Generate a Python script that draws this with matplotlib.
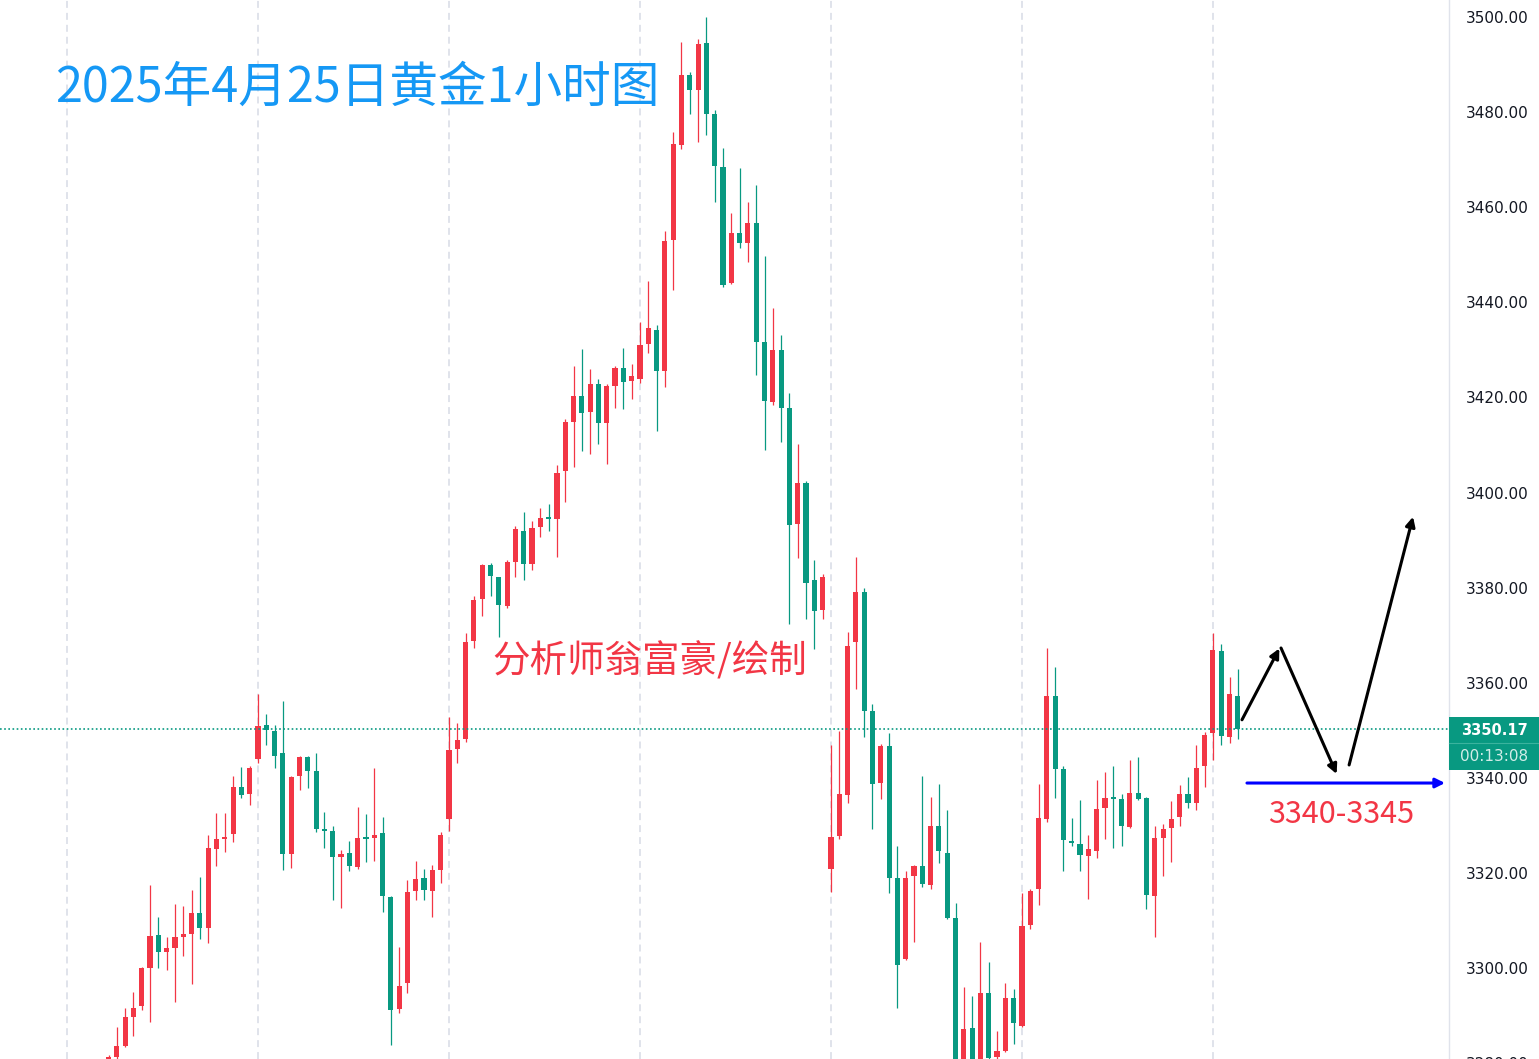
import numpy as np
import matplotlib
matplotlib.use('Agg')
import matplotlib.pyplot as plt
import matplotlib.transforms as mtransforms
from matplotlib.patches import Rectangle

plt.rcParams['font.family'] = ['Noto Sans CJK SC', 'DejaVu Sans']
plt.rcParams['lines.scale_dashes'] = False

# 1h gold candles (open / high / low / close)
opens = [3280.9, 3281.2, 3283.6, 3289.6, 3292.0, 3299.9, 3306.9, 3303.4, 3304.1, 3306.6,
         3307.2, 3311.5, 3308.4, 3325.1, 3327.2, 3328.1, 3338.1, 3336.5, 3344.0, 3351.0,
         3349.9, 3345.2, 3323.9, 3340.4, 3344.4, 3341.4, 3329.2, 3328.8, 3323.3, 3324.1,
         3321.3, 3327.5, 3327.3, 3328.3, 3314.9, 3291.3, 3296.8, 3316.1, 3318.9, 3316.2,
         3320.6, 3331.4, 3346.1, 3348.1, 3368.8, 3377.5, 3384.8, 3382.2, 3376.2, 3385.4,
         3392.0, 3385.0, 3392.8, 3394.8, 3394.5, 3404.5, 3414.9, 3420.3, 3417.0, 3422.8,
         3414.6, 3422.5, 3426.2, 3423.4, 3423.8, 3431.2, 3434.2, 3425.6, 3453.2, 3473.1,
         3487.8, 3484.6, 3494.5, 3479.7, 3468.5, 3444.1, 3454.5, 3452.5, 3456.7, 3431.6,
         3419.0, 3430.0, 3417.7, 3393.4, 3402.0, 3381.5, 3375.2, 3320.8, 3327.8, 3336.4,
         3368.6, 3379.0, 3354.1, 3339.0, 3346.6, 3318.9, 3301.8, 3319.4, 3321.5, 3317.5,
         3329.9, 3324.1, 3310.6, 3277.0, 3287.3, 3276.0, 3294.8, 3281.2, 3282.6, 3293.6,
         3287.8, 3309.0, 3316.6, 3331.3, 3357.1, 3341.9, 3326.7, 3326.0, 3323.6, 3324.6,
         3333.6, 3335.9, 3335.5, 3329.7, 3336.8, 3335.7, 3315.2, 3327.4, 3329.4, 3331.7,
         3336.6, 3334.8, 3342.5, 3349.5, 3366.7, 3348.6, 3357.3]
highs = [3281.6, 3287.5, 3291.5, 3294.9, 3300.3, 3317.5, 3310.7, 3306.6, 3313.5, 3313.0,
         3316.3, 3319.2, 3327.9, 3332.7, 3332.5, 3340.4, 3342.2, 3342.5, 3357.6, 3353.4,
         3351.0, 3356.1, 3340.4, 3344.6, 3344.6, 3345.3, 3332.9, 3329.9, 3324.8, 3326.7,
         3333.8, 3332.3, 3342.1, 3331.8, 3315.2, 3304.5, 3318.5, 3322.4, 3320.8, 3321.6,
         3328.6, 3352.8, 3351.6, 3370.5, 3378.2, 3384.9, 3385.1, 3382.3, 3385.8, 3393.0,
         3395.9, 3394.0, 3396.8, 3397.6, 3405.7, 3415.5, 3426.7, 3430.1, 3426.0, 3423.8,
         3422.8, 3426.6, 3430.3, 3427.1, 3435.9, 3444.4, 3435.2, 3455.0, 3475.9, 3494.7,
         3488.4, 3495.4, 3499.9, 3480.4, 3472.5, 3458.7, 3468.2, 3461.2, 3464.7, 3449.7,
         3438.8, 3433.1, 3420.9, 3410.3, 3402.4, 3385.9, 3382.8, 3346.8, 3349.8, 3370.7,
         3386.5, 3379.9, 3355.5, 3347.1, 3349.4, 3325.7, 3320.3, 3321.6, 3340.4, 3336.0,
         3338.8, 3333.2, 3313.6, 3296.1, 3294.1, 3305.5, 3301.2, 3286.8, 3296.9, 3295.5,
         3315.8, 3316.6, 3338.8, 3367.2, 3363.2, 3342.5, 3331.5, 3335.3, 3328.0, 3339.5,
         3341.3, 3342.5, 3336.5, 3343.7, 3344.4, 3336.0, 3329.9, 3330.2, 3335.1, 3338.5,
         3340.1, 3346.8, 3349.7, 3370.5, 3368.1, 3361.1, 3362.9]
lows = [3280.6, 3280.5, 3283.4, 3285.8, 3291.2, 3288.6, 3299.9, 3299.5, 3292.9, 3302.5,
        3296.7, 3306.2, 3305.2, 3321.4, 3324.3, 3326.4, 3335.8, 3334.3, 3343.1, 3346.9,
        3342.0, 3320.6, 3321.0, 3337.4, 3337.8, 3328.5, 3325.2, 3314.2, 3312.7, 3320.5,
        3320.9, 3322.2, 3322.4, 3311.8, 3283.8, 3290.5, 3294.8, 3314.2, 3314.2, 3310.8,
        3317.8, 3328.9, 3343.2, 3347.5, 3367.4, 3374.1, 3378.2, 3369.6, 3375.8, 3382.3,
        3381.7, 3383.7, 3390.7, 3391.9, 3386.4, 3398.1, 3405.3, 3408.8, 3408.1, 3410.1,
        3406.0, 3417.7, 3417.5, 3419.7, 3423.0, 3429.4, 3412.9, 3422.1, 3442.6, 3472.2,
        3479.7, 3473.7, 3475.1, 3461.2, 3443.3, 3443.9, 3451.4, 3448.4, 3424.8, 3408.9,
        3418.3, 3410.6, 3372.3, 3386.3, 3373.4, 3367.0, 3373.5, 3315.9, 3327.1, 3334.6,
        3358.7, 3348.5, 3329.2, 3335.5, 3315.8, 3291.5, 3301.6, 3305.5, 3317.1, 3316.6,
        3322.0, 3310.4, 3270.0, 3272.0, 3266.0, 3271.0, 3263.0, 3279.0, 3282.3, 3284.0,
        3287.6, 3308.1, 3313.3, 3330.8, 3335.7, 3320.5, 3325.7, 3320.5, 3314.5, 3323.1,
        3327.1, 3325.3, 3325.6, 3329.5, 3335.3, 3312.4, 3306.6, 3319.4, 3322.2, 3329.9,
        3333.6, 3333.2, 3338.1, 3343.7, 3347.0, 3347.3, 3348.1]
closes = [3281.3, 3283.6, 3289.6, 3291.5, 3300.1, 3306.7, 3303.4, 3304.1, 3306.5, 3307.1,
          3311.5, 3308.4, 3325.2, 3327.1, 3327.6, 3338.1, 3336.4, 3342.1, 3350.9, 3350.1,
          3344.6, 3323.9, 3340.2, 3344.4, 3341.5, 3329.3, 3328.8, 3323.4, 3324.0, 3321.5,
          3327.4, 3327.2, 3328.0, 3315.1, 3291.2, 3296.2, 3315.9, 3318.8, 3316.3, 3320.6,
          3328.0, 3345.8, 3348.0, 3368.6, 3377.4, 3384.8, 3382.4, 3376.3, 3385.4, 3392.3,
          3384.9, 3392.6, 3394.7, 3394.4, 3404.2, 3414.9, 3420.4, 3416.7, 3422.8, 3414.6,
          3422.4, 3426.2, 3423.3, 3424.5, 3431.0, 3434.5, 3425.6, 3452.9, 3473.3, 3487.8,
          3484.6, 3494.3, 3479.7, 3468.7, 3443.7, 3454.5, 3452.5, 3456.7, 3431.6, 3419.2,
          3430.0, 3417.7, 3393.1, 3402.0, 3381.0, 3375.0, 3382.3, 3327.5, 3336.5, 3367.8,
          3379.0, 3354.1, 3338.8, 3346.7, 3319.0, 3300.6, 3318.9, 3321.5, 3317.6, 3329.9,
          3324.5, 3310.6, 3278.0, 3287.2, 3276.0, 3294.8, 3281.0, 3282.6, 3293.6, 3288.4,
          3308.9, 3316.2, 3331.5, 3357.2, 3341.9, 3326.9, 3326.2, 3323.8, 3325.0, 3333.4,
          3335.8, 3335.5, 3329.8, 3336.9, 3335.6, 3315.3, 3327.3, 3329.2, 3331.3, 3336.6,
          3334.6, 3342.0, 3349.1, 3366.9, 3348.8, 3357.6, 3350.17]

# session separators (candle index of each new trading day)
session_starts = [-5, 18, 41, 64, 87, 110, 133]
price_ticks = [3300, 3320, 3340, 3360, 3380, 3400, 3420, 3440, 3460, 3480, 3500]
countdown = '00:13:08'

# forecast path drawn with arrows: (candle index, price)
forecast_path = [(136.5, 3352.2), (141.0, 3367.2), (141.2, 3367.3), (147.9, 3340.8),
                 (149.4, 3342.7), (157.1, 3394.9)]
support_price = 3338.9
support_span = (137.1, 160.95)
support_label = '3340-3345'

title = '2025年4月25日黄金1小时图'
author = '分析师翁富豪/绘制'

UP = '#F23645'
DOWN = '#089981'
GRID = '#E0E3EB'

W, H = 1539, 1059
AX_W = 1449
Y_LO, Y_HI = 3280.86, 3503.58


def px(n):
    # n screen pixels expressed in price units
    return n * (Y_HI - Y_LO) / H


def main():
    o = np.array(opens)
    h = np.array(highs)
    l = np.array(lows)
    c = np.array(closes)
    x = np.arange(len(o))

    fig = plt.figure(figsize=(W / 100, H / 100), dpi=100)
    fig.patch.set_facecolor('white')
    ax = fig.add_axes([0, 0, AX_W / W, 1])

    colors = np.where(c >= o, UP, DOWN)
    ax.vlines(x, l, h, colors=colors, linewidth=0.9, zorder=3)
    ax.bar(x, np.maximum(np.abs(c - o), px(1.2)), 0.62, bottom=np.minimum(o, c),
           color=colors, linewidth=0, zorder=4)

    for s in session_starts:
        ax.axvline(s, color=GRID, linewidth=1.4, linestyle=(0, (5, 3.6)), zorder=1)

    last = c[-1]
    ax.axhline(last, color=DOWN, linewidth=1.2, linestyle=(0, (1.2, 1.8)), zorder=5)

    ax.set_xlim(-13.07, 161.43)
    ax.set_ylim(Y_LO, Y_HI)

    for side in ['top', 'left', 'bottom']:
        ax.spines[side].set_visible(False)
    ax.spines['right'].set_color(GRID)
    ax.spines['right'].set_linewidth(1.0)

    ax.set_xticks([])
    ax.yaxis.tick_right()
    ax.set_yticks(price_ticks)
    ax.set_yticklabels([f'{v:.2f}' for v in price_ticks], family='DejaVu Sans')
    ax.tick_params(axis='y', length=0, pad=12, labelsize=11, labelcolor='#131722')
    # half-visible label at the bottom edge, as in the source screenshot
    ax.annotate('3280.00', xy=(1, 3280), xycoords=('axes fraction', 'data'),
                xytext=(12, 0), textcoords='offset points', va='center_baseline',
                fontsize=11, color='#131722', family='DejaVu Sans',
                annotation_clip=False)

    # last price / countdown tag on the axis
    blend = mtransforms.blended_transform_factory(ax.transAxes, ax.transData)
    tag_w = (W - AX_W) / AX_W
    ax.add_patch(Rectangle((1, last - px(13.9)), tag_w, px(26.3), transform=blend,
                           facecolor=DOWN, edgecolor='none', clip_on=False, zorder=6))
    ax.add_patch(Rectangle((1, last - px(40.6)), tag_w, px(26.4), transform=blend,
                           facecolor=DOWN, edgecolor='none', clip_on=False, zorder=6))
    ax.plot([1, 1 + tag_w], [last - px(13.9)] * 2, transform=blend, color='#3BB39E',
            linewidth=0.8, clip_on=False, zorder=7)
    xc = 1 + tag_w / 2
    ax.text(xc, last - px(0.6), f'{last:.2f}', transform=blend, ha='center', va='center',
            fontsize=10.5, fontweight='bold', color='white', family='DejaVu Sans', zorder=8)
    ax.text(xc, last - px(27.3), countdown, transform=blend, ha='center', va='center',
            fontsize=11, color='white', alpha=0.82, family='DejaVu Sans', zorder=8)

    # forecast arrows
    arrow = dict(arrowstyle='-|>', color='black', lw=2.2, mutation_scale=14,
                 shrinkA=0, shrinkB=0)
    for k in range(0, len(forecast_path), 2):
        ax.annotate('', xy=forecast_path[k + 1], xytext=forecast_path[k],
                    arrowprops=arrow, annotation_clip=False, zorder=9)
    ax.annotate('', xy=(support_span[1], support_price),
                xytext=(support_span[0], support_price),
                arrowprops=dict(arrowstyle='-|>', color='#0000FF', lw=2.2,
                                mutation_scale=14, shrinkA=0, shrinkB=0),
                annotation_clip=False, zorder=9)
    ax.text((support_span[0] + support_span[1]) / 2 - 0.6, support_price - px(31.5),
            support_label, ha='center', va='center', fontsize=22, color=UP)

    fig.text(55 / W, 1 - 88 / H, title, ha='left', va='center', fontsize=35,
             color='#1598F5')
    fig.text(492 / W, 1 - 662 / H, author, ha='left', va='center', fontsize=27,
             color=UP)

    fig.savefig('out.png', dpi=100)


if __name__ == '__main__':
    main()
